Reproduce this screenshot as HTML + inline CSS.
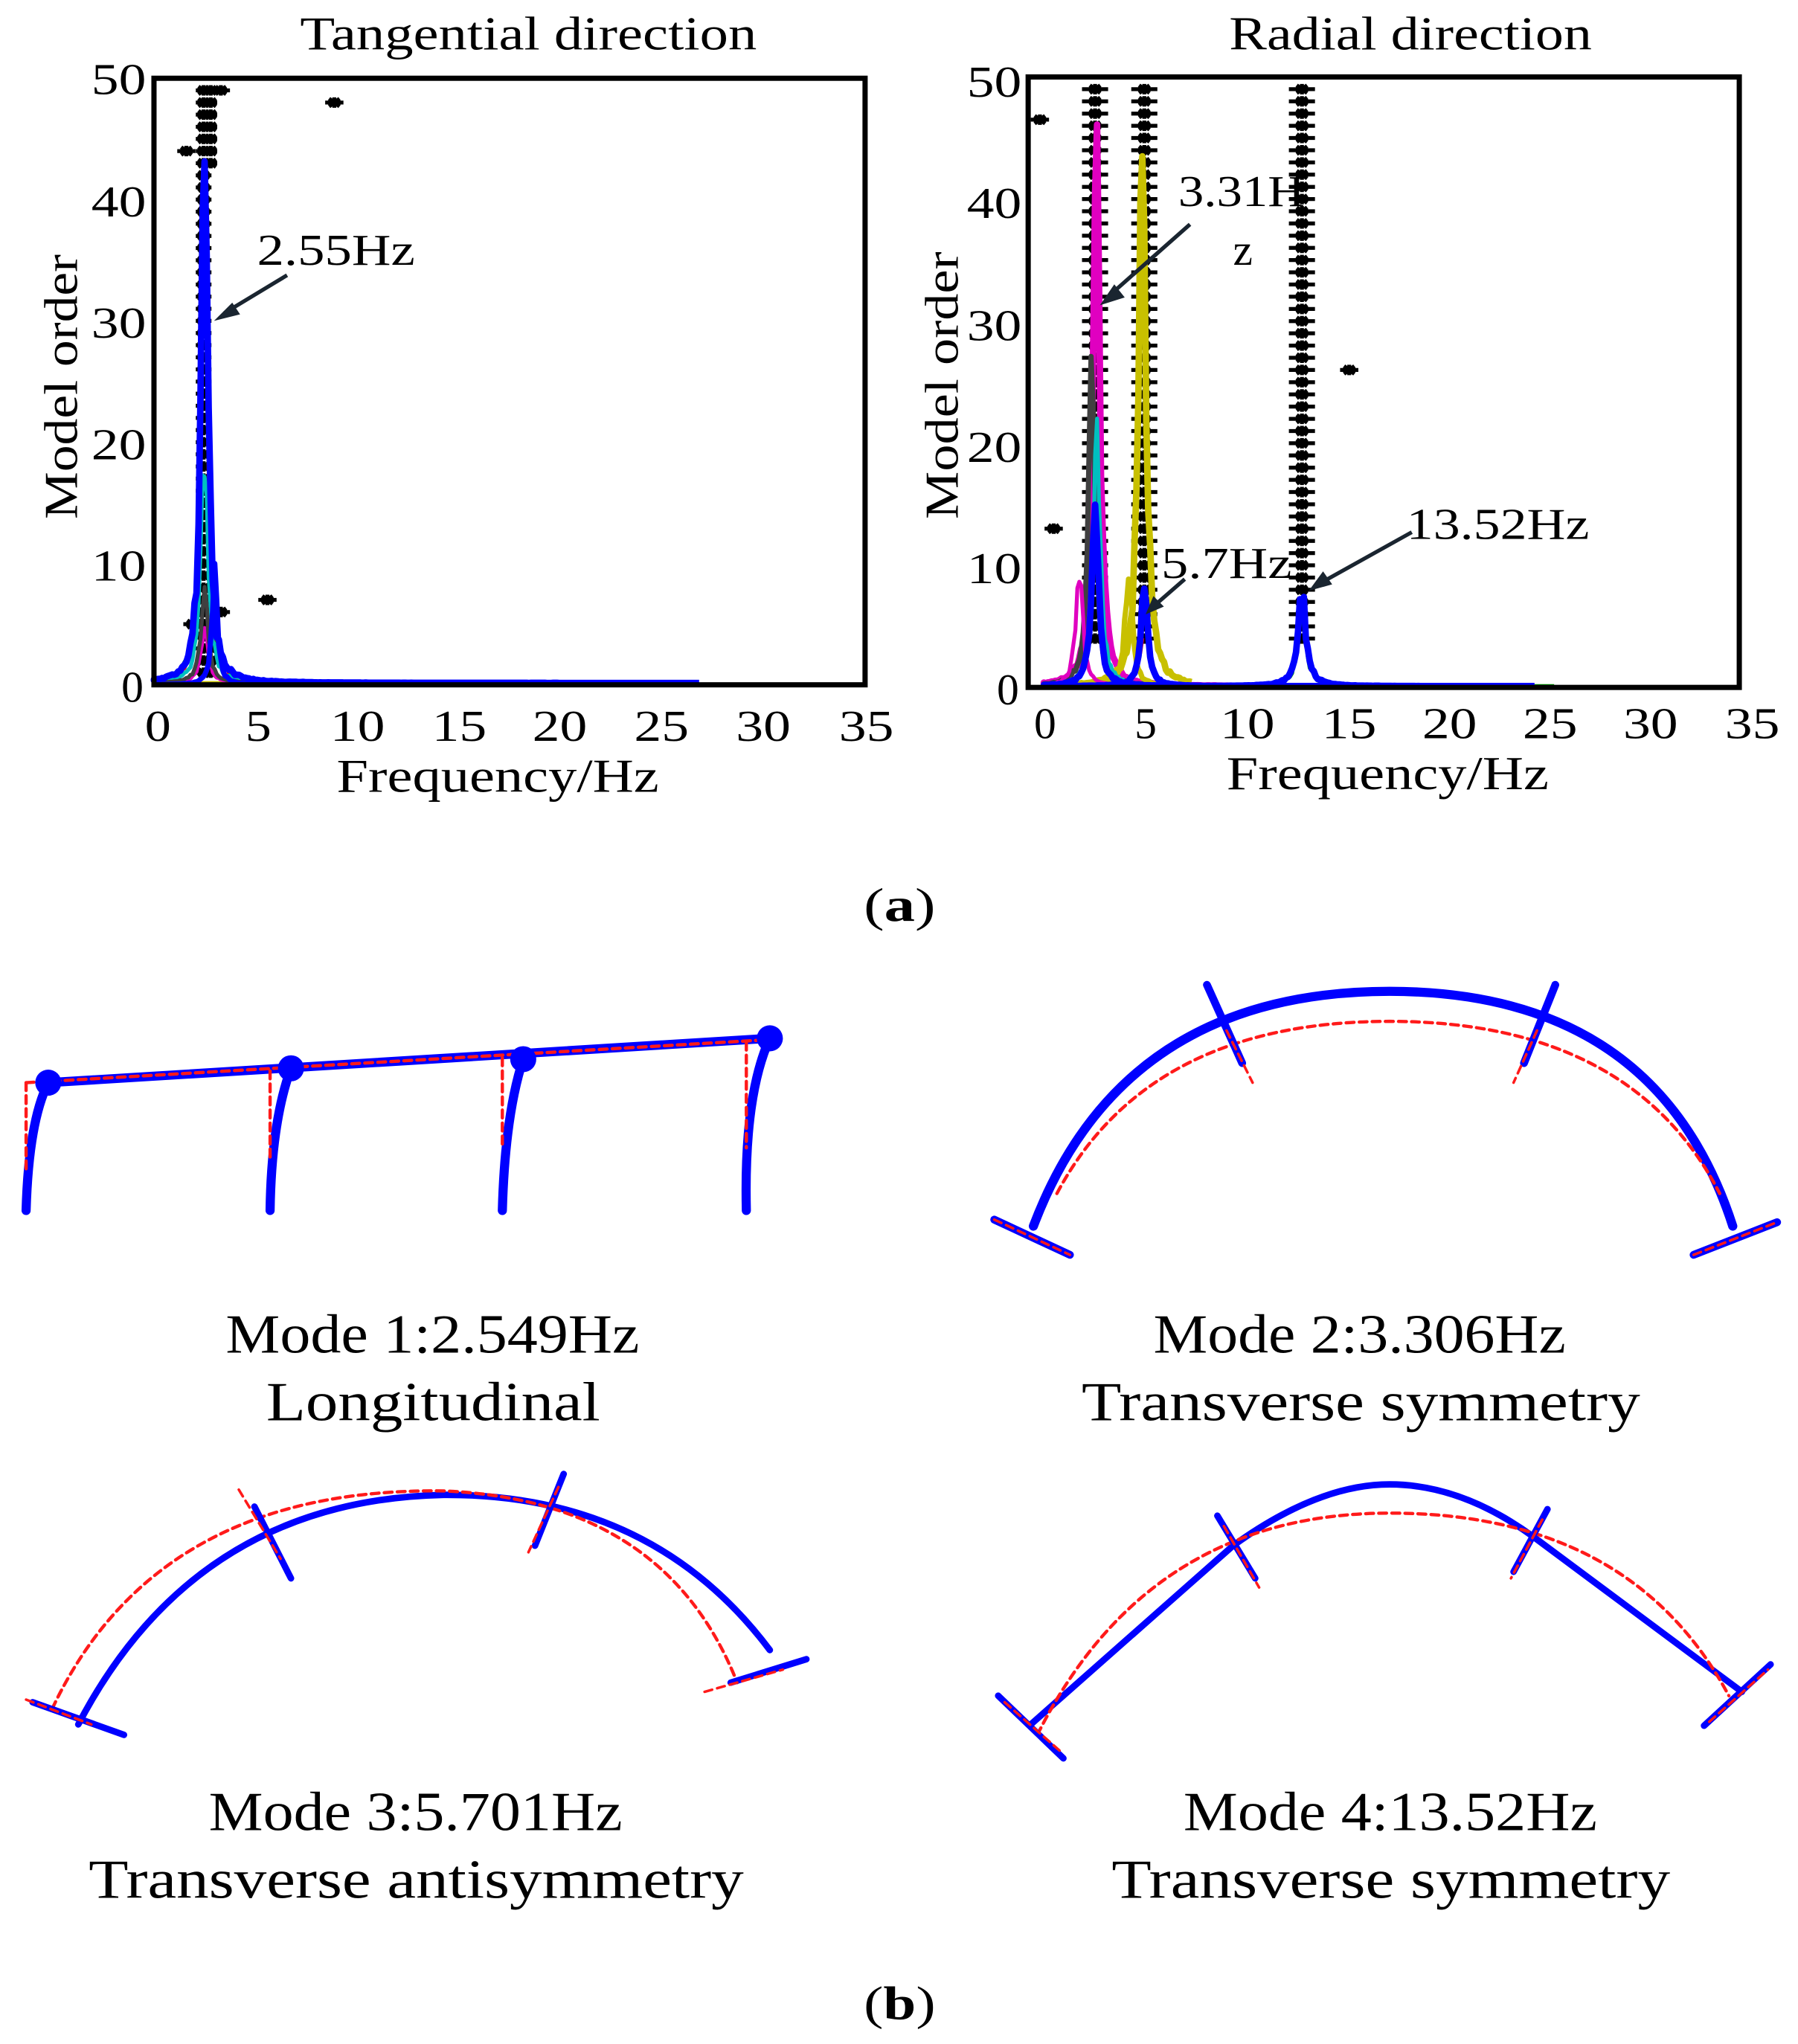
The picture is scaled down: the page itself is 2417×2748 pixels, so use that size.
<!DOCTYPE html>
<html><head><meta charset="utf-8"><style>
html,body{margin:0;padding:0;background:#fff}
svg{display:block}
text{font-family:"Liberation Serif",serif;fill:#000}
</style></head><body>
<svg id="s" width="2417" height="2748" viewBox="0 0 1378 1567" preserveAspectRatio="none" xmlns="http://www.w3.org/2000/svg">
<g id="L"></g><g id="R"></g>
<!-- Left axes -->
<rect x="118" y="60" width="545" height="465" fill="none" stroke="#000" stroke-width="4"/>
<text x="230" y="38" font-size="36" textLength="350" lengthAdjust="spacingAndGlyphs">Tangential direction</text>
<g font-size="34" text-anchor="middle">
<text x="121" y="568" textLength="20" lengthAdjust="spacingAndGlyphs">0</text><text x="198" y="568" textLength="20" lengthAdjust="spacingAndGlyphs">5</text><text x="274" y="568" textLength="42" lengthAdjust="spacingAndGlyphs">10</text><text x="352" y="568" textLength="42" lengthAdjust="spacingAndGlyphs">15</text><text x="429" y="568" textLength="42" lengthAdjust="spacingAndGlyphs">20</text><text x="507" y="568" textLength="42" lengthAdjust="spacingAndGlyphs">25</text><text x="585" y="568" textLength="42" lengthAdjust="spacingAndGlyphs">30</text><text x="664" y="568" textLength="42" lengthAdjust="spacingAndGlyphs">35</text>
</g>
<g font-size="34" text-anchor="end">
<text x="110" y="538">0</text><text x="112" y="445" textLength="42" lengthAdjust="spacingAndGlyphs">10</text><text x="112" y="352" textLength="42" lengthAdjust="spacingAndGlyphs">20</text><text x="112" y="259" textLength="42" lengthAdjust="spacingAndGlyphs">30</text><text x="112" y="166" textLength="42" lengthAdjust="spacingAndGlyphs">40</text><text x="112" y="72" textLength="42" lengthAdjust="spacingAndGlyphs">50</text>
</g>
<text x="258" y="607" font-size="36" textLength="247" lengthAdjust="spacingAndGlyphs">Frequency/Hz</text>
<text transform="translate(59,398) rotate(-90)" font-size="36" textLength="203" lengthAdjust="spacingAndGlyphs">Model order</text>
<text x="197" y="203" font-size="34" textLength="121" lengthAdjust="spacingAndGlyphs">2.55Hz</text>
<line x1="220" y1="211" x2="172" y2="240" stroke="#1a2530" stroke-width="3"/>
<polygon points="164,246 178,232 184,241" fill="#1a2530"/>
<!-- Right axes -->
<rect x="788" y="59" width="545" height="468" fill="none" stroke="#000" stroke-width="4"/>
<text x="942" y="38" font-size="36" textLength="278" lengthAdjust="spacingAndGlyphs">Radial direction</text>
<g font-size="34" text-anchor="middle">
<text x="801" y="566">0</text><text x="878" y="566">5</text><text x="956" y="566" textLength="42" lengthAdjust="spacingAndGlyphs">10</text><text x="1034" y="566" textLength="42" lengthAdjust="spacingAndGlyphs">15</text><text x="1111" y="566" textLength="42" lengthAdjust="spacingAndGlyphs">20</text><text x="1188" y="566" textLength="42" lengthAdjust="spacingAndGlyphs">25</text><text x="1265" y="566" textLength="42" lengthAdjust="spacingAndGlyphs">30</text><text x="1343" y="566" textLength="42" lengthAdjust="spacingAndGlyphs">35</text>
</g>
<g font-size="34" text-anchor="end">
<text x="781" y="540">0</text><text x="783" y="447" textLength="42" lengthAdjust="spacingAndGlyphs">10</text><text x="783" y="354" textLength="42" lengthAdjust="spacingAndGlyphs">20</text><text x="783" y="261" textLength="42" lengthAdjust="spacingAndGlyphs">30</text><text x="783" y="167" textLength="42" lengthAdjust="spacingAndGlyphs">40</text><text x="783" y="74" textLength="42" lengthAdjust="spacingAndGlyphs">50</text>
</g>
<text x="940" y="605" font-size="36" textLength="247" lengthAdjust="spacingAndGlyphs">Frequency/Hz</text>
<text transform="translate(734,398) rotate(-90)" font-size="36" textLength="205" lengthAdjust="spacingAndGlyphs">Model order</text>
<text x="903" y="158" font-size="34" textLength="97" lengthAdjust="spacingAndGlyphs">3.31H</text>
<text x="945" y="203" font-size="34">z</text>
<line x1="912" y1="172" x2="852" y2="225" stroke="#1a2530" stroke-width="3"/>
<polygon points="843,234 854,218 862,228" fill="#1a2530"/>
<text x="890" y="443" font-size="34" textLength="100" lengthAdjust="spacingAndGlyphs">5.7Hz</text>
<line x1="908" y1="444" x2="885" y2="464" stroke="#1a2530" stroke-width="3"/>
<polygon points="878,471 884,457 892,465" fill="#1a2530"/>
<text x="1078" y="413" font-size="34" textLength="140" lengthAdjust="spacingAndGlyphs">13.52Hz</text>
<line x1="1082" y1="408" x2="1012" y2="447" stroke="#1a2530" stroke-width="3"/>
<polygon points="1003,453 1014,438 1021,448" fill="#1a2530"/>
<text x="662" y="706" font-size="36" textLength="55" lengthAdjust="spacingAndGlyphs">(<tspan font-weight="bold">a</tspan>)</text>
<text x="662" y="1548" font-size="36" textLength="55" lengthAdjust="spacingAndGlyphs">(<tspan font-weight="bold">b</tspan>)</text>

<!-- Mode 1 -->
<g fill="none" stroke-linecap="round">
<path d="M20,928 Q22,860 37,830 M207,928 Q208,860 223,819 M385,928 Q387,855 401,812 M572,928 Q570,840 590,796" stroke="#0000ff" stroke-width="7"/>
<line x1="37" y1="830" x2="590" y2="796" stroke="#0000ff" stroke-width="7"/>
<line x1="20" y1="830" x2="590" y2="797" stroke="#ff1a1a" stroke-width="2.5" stroke-dasharray="6,4"/>
<path d="M20,830 L20,900 M207,821 L207,890 M385,811 L385,880 M572,799 L572,880" stroke="#ff1a1a" stroke-width="2.5" stroke-dasharray="6,4"/>
</g>
<g fill="#0000ff"><circle cx="37" cy="830" r="10"/><circle cx="223" cy="819" r="10"/><circle cx="401" cy="812" r="10"/><circle cx="590" cy="796" r="10"/></g>
<!-- Mode 2 -->
<g fill="none" stroke-linecap="round">
<path d="M792,940 Q860,760 1065,760 Q1270,760 1328,940" stroke="#0000ff" stroke-width="7"/>
<path d="M810,915 Q880,783 1065,783 Q1250,783 1318,915" stroke="#ff1a1a" stroke-width="2.5" stroke-dasharray="6,4"/>
<path d="M925,755 L952,815 M1192,755 L1168,815 M762,935 L820,962 M1298,962 L1362,937" stroke="#0000ff" stroke-width="6"/>
<path d="M940,790 L960,830 M1178,790 L1160,830 M762,935 L820,962 M1298,962 L1362,937" stroke="#ff1a1a" stroke-width="2" stroke-dasharray="6,4"/>
</g>
<!-- Mode 3 -->
<g fill="none" stroke-linecap="round">
<path d="M60,1322 Q150,1150 340,1146 Q500,1145 590,1265" stroke="#0000ff" stroke-width="5"/>
<path d="M40,1310 Q120,1140 340,1143 Q510,1150 565,1290" stroke="#ff1a1a" stroke-width="2.5" stroke-dasharray="6,4"/>
<path d="M195,1155 L223,1210 M432,1130 L410,1185 M25,1305 L95,1330 M560,1290 L618,1272" stroke="#0000ff" stroke-width="5"/>
<path d="M183,1142 L215,1195 M428,1140 L405,1190 M20,1303 L70,1322 M540,1297 L600,1280" stroke="#ff1a1a" stroke-width="2" stroke-dasharray="6,4"/>
</g>
<!-- Mode 4 -->
<g fill="none" stroke-linecap="round">
<path d="M790,1322 L945,1185 Q1010,1138 1065,1138 Q1120,1138 1175,1178 L1335,1297" stroke="#0000ff" stroke-width="5"/>
<path d="M795,1330 Q880,1160 1065,1160 Q1250,1160 1325,1300" stroke="#ff1a1a" stroke-width="2.5" stroke-dasharray="6,4"/>
<path d="M933,1162 L962,1210 M1186,1157 L1160,1205 M765,1300 L815,1348 M1306,1323 L1357,1276" stroke="#0000ff" stroke-width="5"/>
<path d="M938,1170 L965,1217 M1182,1165 L1158,1210 M770,1305 L812,1342 M1310,1320 L1355,1280" stroke="#ff1a1a" stroke-width="2" stroke-dasharray="6,4"/>
</g>
<g font-size="42">
<text x="173" y="1037" textLength="317" lengthAdjust="spacingAndGlyphs">Mode 1:2.549Hz</text><text x="204" y="1089" textLength="256" lengthAdjust="spacingAndGlyphs">Longitudinal</text>
<text x="884" y="1037" textLength="316" lengthAdjust="spacingAndGlyphs">Mode 2:3.306Hz</text><text x="829" y="1089" textLength="428" lengthAdjust="spacingAndGlyphs">Transverse symmetry</text>
<text x="160" y="1403" textLength="317" lengthAdjust="spacingAndGlyphs">Mode 3:5.701Hz</text><text x="68" y="1455" textLength="502" lengthAdjust="spacingAndGlyphs">Transverse antisymmetry</text>
<text x="907" y="1403" textLength="317" lengthAdjust="spacingAndGlyphs">Mode 4:13.52Hz</text><text x="852" y="1455" textLength="428" lengthAdjust="spacingAndGlyphs">Transverse symmetry</text>
</g>
</svg>
<script>
var NS="http://www.w3.org/2000/svg";
function el(p,n,a){var e=document.createElementNS(NS,n);for(var k in a)e.setAttribute(k,a[k]);p.appendChild(e);return e;}
var L=document.getElementById("L"),R=document.getElementById("R");
function lx(f){return 118+f*15.53} function ly(o){return 525-o*9.3}
function rx(f){return 800+f*15.1} function ry(o){return 527-o*9.36}
function star(g,x,y,hw){hw=hw||7;el(g,"path",{d:"M"+(x-hw)+","+y+"h"+(2*hw)+"M"+x+","+(y-4)+"v8M"+(x-4)+","+(y-3)+"l8,6M"+(x-4)+","+(y+3)+"l8,-6",stroke:"#000","stroke-width":"3",fill:"none"});}
for(var o=1;o<=49;o++){star(L,lx(2.45),ly(o),6); if(o>42||o<8)star(L,lx(2.8),ly(o),5);}
[[1.6,44],[3.3,49],[8.9,48],[5.6,7],[3.3,6],[1.9,5]].forEach(function(p){star(L,lx(p[0]),ly(p[1]));});
[2.6,5.1,13.1].forEach(function(f){for(var o=4;o<=49;o++){star(R,rx(f),ry(o),10);}});
[[-0.2,46.5],[0.5,13],[15.5,26]].forEach(function(p){star(R,rx(p[0]),ry(p[1]));});
var seed=3;function rnd(){seed=(seed*9301+49297)%233280;return seed/233280;}
function peak(g,X,Y,f0,h,w,col,sw,fmax,base){var d="";for(var f=-0.5;f<=fmax;f+=0.1){var v=h/(1+Math.pow((f-f0)/w,2));v=Math.min(h,v*(0.85+0.3*rnd()))+base;d+=(d?"L":"M")+X(Math.max(f,0)).toFixed(1)+","+Y(v).toFixed(1);}el(g,"path",{d:d,stroke:col,"stroke-width":sw,fill:"none","stroke-linejoin":"round"});}
var lc=[["#c8c000",3,0],["#ff0000",3,35],["#00a000",3,40],["#00c0c0",3,20],["#e000c0",3,5],["#404040",3,8],["#0000ff",5,43]];
lc.forEach(function(c,i){peak(L,lx,ly,2.5,c[2],0.2,c[0],c[1],i==6?27:13+i*2,0.15);});
peak(L,lx,ly,3.0,10,0.15,"#0000ff",4,5,0);
var rc=[["#e000c0",5,2.65,46,0.2,11],["#404040",4,2.45,27,0.2,8],["#c8c000",4,4.3,10,0.2,7],["#c8c000",5,5.0,45,0.22,7.5],["#e000c0",3,1.8,10,0.2,6],["#00c0c0",3,2.7,22,0.2,6],["#ff0000",3,5.1,5,0.25,5],["#00a000",3,13.1,6,0.25,26],["#0000ff",5,2.6,15,0.2,25],["#0000ff",5,5.1,8,0.2,8],["#0000ff",5,13.1,7.5,0.25,25]];
rc.forEach(function(c){peak(R,rx,ry,c[2],c[3],c[4],c[0],c[1],c[5],0.1);});
</script>
</body></html>
